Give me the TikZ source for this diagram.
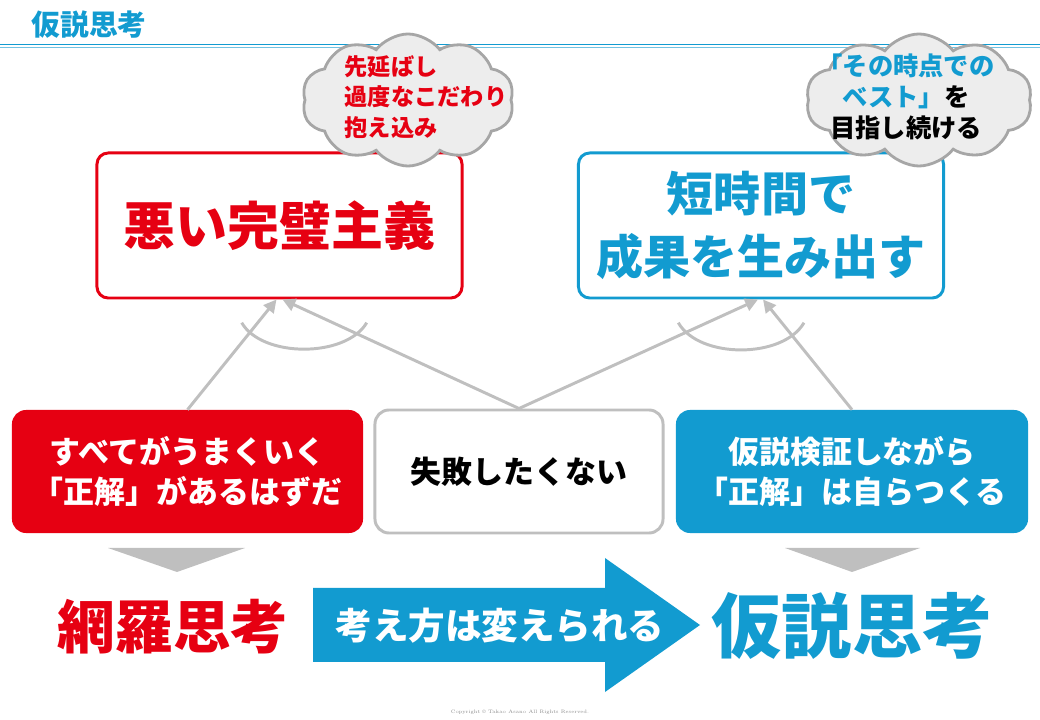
\documentclass[tikz,border=0pt]{standalone}
\usepackage{fontspec}
\usepackage{tikz}
\usetikzlibrary{positioning, arrows.meta, shapes.symbols, calc}
\newfontfamily\jp{Noto Sans CJK JP}
\newcommand\jpfs[2]{\fontsize{#1}{#2}\selectfont}
\definecolor{hred}{HTML}{E60012}
\definecolor{hblue}{HTML}{129BD0}
\definecolor{hgray}{HTML}{BFBFBF}
\definecolor{cldfill}{HTML}{EDEDED}
\definecolor{cldline}{HTML}{A6A6A6}
\tikzset{
  card/.style={rounded corners=8pt, line width=2.1pt, fill=white, align=center,
    inner sep=0pt, minimum width=9.125cm, minimum height=3.625cm},
  cardr/.style={card, draw=hred, text=hred, font=\jp\bfseries\jpfs{37}{45}},
  cardb/.style={card, draw=hblue, text=hblue, font=\jp\bfseries\jpfs{33.5}{45}},
  pill/.style={rounded corners=10pt, minimum height=3.075cm, inner sep=0pt,
    align=center, font=\jp\bfseries\jpfs{22}{28.5}},
  pillr/.style={pill, fill=hred, text=white, minimum width=8.775cm},
  pillw/.style={pill, fill=white, draw=hgray, line width=2.1pt, text=black, minimum width=7.2cm},
  pillb/.style={pill, fill=hblue, text=white, minimum width=8.8cm},
  cld/.style={cloud, cloud puffs=10, cloud puff arc=105, aspect=1.7, draw=cldline,
    fill=cldfill, line width=2pt, minimum width=5.3cm, minimum height=3.3cm},
  cldtxt/.style={inner sep=0pt, font=\jp\bfseries\jpfs{16.5}{21.5}},
  flow/.style={-{Triangle[length=3.2mm,width=3.2mm]}, line width=2.1pt, color=hgray},
  swing/.style={line width=2.1pt, color=hgray},
  big/.style={inner sep=0pt, font=\jp\bfseries\jpfs{50}{55}},
}
\begin{document}
\begin{tikzpicture}[x=0.025cm, y=-0.025cm]
  \useasboundingbox (0,0) rectangle (1040,720);
  % heading
  \node[inner sep=0pt, text=hblue, font=\jp\bfseries\jpfs{20.5}{22}] (title) at (89,25) {仮説思考};
  \draw[hblue, line width=1.3pt] (0,44.5) -- (1040,44.5);
  \draw[hblue!60, line width=0.8pt] (0,47.3) -- (1040,47.3);
  % upper cards
  \node[cardr] (bad) at (279.5,225.5) {悪い完璧主義};
  \node[cardb] (good) at (761,225.5) {短時間で\\成果を生み出す};
  % clouds
  \node[cld] (cloudl) at (408,100) {};
  \node[cldtxt, text=hred, align=left] (notel) at (426,97) {先延ばし\\過度なこだわり\\抱え込み};
  \node[cld, minimum width=5.65cm] (cloudr) at (919,100) {};
  \node[cldtxt, font=\jp\bfseries\jpfs{18}{22}, align=center] (noter) at (906,97)
    {\textcolor{hblue}{「その時点での}\\\textcolor{hblue}{ベスト」}を\\目指し続ける};
  % lower pills
  \node[pillr] (exh) at (187.5,471.5) {すべてがうまくいく\\「正解」があるはずだ};
  \node[pillw] (fear) at (519,471.5) {失敗したくない};
  \node[pillb] (hyp) at (852,471.5) {仮説検証しながら\\「正解」は自らつくる};
  % arrows up
  \draw[flow] (exh.north) -- ($(bad.south)+(-3,0)$);
  \draw[flow] (fear.north) -- ($(bad.south)+(3,0)$);
  \draw[flow] (fear.north) -- ($(good.south)+(-3,0)$);
  \draw[flow] (hyp.north) -- ($(good.south)+(2,0)$);
  \draw[swing] (241.7,322.7) .. controls (262,358) and (346,358) .. (366.7,322.7);
  \draw[swing] (678.3,322.7) .. controls (699,359) and (783,359) .. (804,322.7);
  % down marks
  \fill[hgray] (108,548) -- (245,548) -- (177,572) -- cycle;
  \fill[hgray] (785,548) -- (920,548) -- (852,572) -- cycle;
  % bottom row
  \node[big, text=hred, font=\jp\bfseries\jpfs{41}{45}] (exhlbl) at (173,627) {網羅思考};
  \fill[hblue] (313,588) -- (605,588) -- (605,558) -- (700,625) -- (605,692) -- (605,662) -- (313,662) -- cycle;
  \node[inner sep=0pt, text=white, font=\jp\bfseries\jpfs{26}{30}] (shift) at (500,626) {考え方は変えられる};
  \node[big, text=hblue] (hyplbl) at (852,626) {仮説思考};
  \node[inner sep=0pt, text=black!45, font=\jpfs{3.5}{4}] (copy) at (520,712) {Copyright \textcopyright\ Takao Asano All Rights Reserved.};
\end{tikzpicture}
\end{document}
